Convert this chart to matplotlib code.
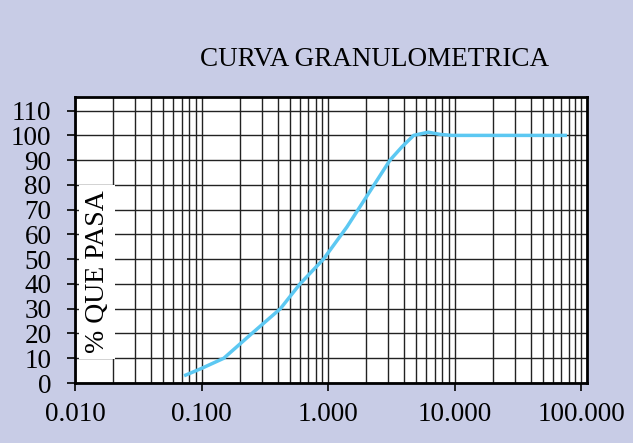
import matplotlib.pyplot as plt
from matplotlib.ticker import LogLocator, FixedLocator, FixedFormatter

# values
diametro = [0.075, 0.10, 0.15, 0.25, 0.42, 0.60, 0.92, 1.41, 2.0, 3.09, 3.83, 4.75, 6.2, 7.7, 9.5, 19.0, 37.5, 75.0]
pasa = [3.2, 5.9, 10.0, 20.0, 30.0, 40.0, 50.0, 63.0, 75.0, 90.0, 95.3, 100.0, 101.3, 100.4, 100.0, 100.0, 100.0, 100.0]

x_ticks = [0.01, 0.1, 1, 10, 100]
x_labels = ["0.010", "0.100", "1.000", "10.000", "100.000"]
y_ticks = list(range(0, 111, 10))

bg = "#C8CCE6"
line_color = "#5CC8F2"

plt.rcParams['font.family'] = ['Liberation Serif', 'DejaVu Serif']

fig = plt.figure(figsize=(6.33, 4.43), dpi=100, facecolor=bg)
ax = fig.add_axes([0.1185, 0.1354, 0.8088, 0.6456])
ax.set_facecolor("white")

ax.plot(diametro, pasa, color=line_color, lw=2.5, zorder=3)

ax.set_xscale("log")
ax.set_xlim(0.01, 111.5)
ax.set_ylim(0, 115.5)

ax.xaxis.set_major_locator(FixedLocator(x_ticks))
ax.xaxis.set_major_formatter(FixedFormatter(x_labels))
ax.xaxis.set_minor_locator(LogLocator(base=10, subs=range(2, 10), numticks=20))
ax.yaxis.set_major_locator(FixedLocator(y_ticks))

ax.grid(True, which="major", axis="both", color="#222222", lw=1.0, zorder=1)
ax.grid(True, which="minor", axis="x", color="#222222", lw=1.0, zorder=1)

ax.tick_params(axis="both", which="major", labelsize=19.5, direction="out",
               length=6, width=1.2, color="black")
ax.tick_params(axis="x", which="major", pad=8)
ax.tick_params(axis="y", which="major", pad=11)
ax.tick_params(axis="x", which="minor", length=0)
ax.tick_params(top=False, right=False)

for s in ax.spines.values():
    s.set_linewidth(2)
    s.set_color("black")

ax.text(0.043, 0.388, "% QUE PASA", transform=ax.transAxes, rotation=90,
        ha="center", va="center", fontsize=20, zorder=4,
        bbox=dict(facecolor="white", edgecolor="none", pad=4))

fig.text(0.591, 0.865, "CURVA GRANULOMETRICA", ha="center", va="center", fontsize=19.5)

fig.savefig("out.png", dpi=100, facecolor=bg)
